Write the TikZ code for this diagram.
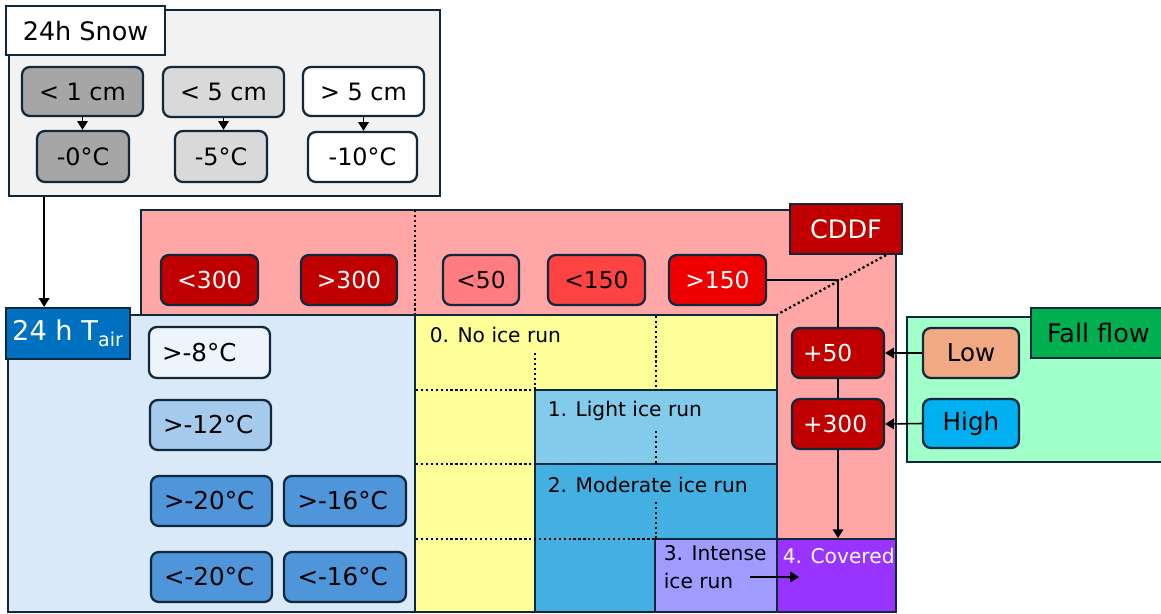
\documentclass[tikz,border=0pt]{standalone}
\usepackage{fontspec}
\setmainfont{DejaVu Sans}
\usetikzlibrary{arrows.meta}
\usepackage{xcolor}

\definecolor{outline}{HTML}{10283C}
\definecolor{snowbg}{HTML}{F2F2F2}
\definecolor{snowdark}{HTML}{A6A6A6}
\definecolor{snowmid}{HTML}{D9D9D9}
\definecolor{cddfbg}{HTML}{FFA7A7}
\definecolor{cddfdark}{HTML}{C00000}
\definecolor{cddfpink}{HTML}{FF7C80}
\definecolor{cddfmid}{HTML}{FF4343}
\definecolor{cddfred}{HTML}{EE0000}
\definecolor{tairbg}{HTML}{DAE9F8}
\definecolor{tairpale}{HTML}{EEF4FB}
\definecolor{tairlight}{HTML}{A6CAEC}
\definecolor{tairmid}{HTML}{4E95D9}
\definecolor{tairdark}{HTML}{0070C0}
\definecolor{noice}{HTML}{FFFF99}
\definecolor{lightice}{HTML}{83CBEB}
\definecolor{modice}{HTML}{44B0E1}
\definecolor{intice}{HTML}{A09CFF}
\definecolor{covice}{HTML}{9933FF}
\definecolor{flowbg}{HTML}{A1FFCA}
\definecolor{flowdark}{HTML}{00B050}
\definecolor{flowlow}{HTML}{F1A983}
\definecolor{flowhigh}{HTML}{00B0F0}

\tikzset{
  region/.style={draw=outline,line width=1pt,inner sep=0pt},
  tag/.style={draw=outline,line width=1.2pt,inner sep=0pt,font=\fontsize{14.5}{16}\selectfont},
  rbox/.style={draw=outline,line width=1.3pt,rounded corners=4.5pt,inner sep=0pt},
  sz/.style 2 args={minimum width=#1*0.02cm,minimum height=#2*0.02cm},
  leftpad/.style={align=left,text width=#1*0.02cm},
  snowtxt/.style={font=\fontsize{13.6}{15}\selectfont},
  cddftxt/.style={font=\fontsize{13.3}{15}\selectfont},
  tairtxt/.style={font=\fontsize{14}{16}\selectfont},
  icetxt/.style={anchor=base west,inner sep=0pt,font=\fontsize{11.5}{13}\selectfont},
  dotline/.style={dash pattern=on 1.3pt off 1.5pt,line width=1.3pt,line cap=butt},
}

\begin{document}
\begin{tikzpicture}[x=0.02cm,y=-0.02cm,>={Triangle[length=5pt,width=6pt]},line width=0.9pt]
\useasboundingbox (0,0) rectangle (1161,613);

% snow
\node[region,fill=snowbg,sz={431}{186}] (snow) at (224.5,103) {};
\node[tag,fill=white,sz={159}{49}] (snowlbl) at (85.5,30.5) {24h Snow};
\node[rbox,snowtxt,fill=snowdark,sz={121}{49}] (s1) at (82.5,91.5) {< 1 cm};
\node[rbox,snowtxt,fill=snowdark,sz={92}{51}] (t1) at (83,156.5) {-0°C};
\node[rbox,snowtxt,fill=snowmid,sz={121}{50}] (s2) at (223.5,92) {< 5 cm};
\node[rbox,snowtxt,fill=snowmid,sz={92}{51}] (t2) at (221,156.5) {-5°C};
\node[rbox,snowtxt,fill=white,sz={121}{49}] (s3) at (363.5,91.5) {> 5 cm};
\node[rbox,snowtxt,fill=white,sz={109}{50}] (t3) at (362.5,157) {-10°C};
\foreach \i in {1,2,3}
  \draw[->] (s\i.south) -- (s\i.south |- t\i.north);

% CDDF
\node[region,fill=cddfbg,sz={755}{330}] (cddf) at (518.5,375) {};
\node[tag,fill=cddfdark,text=white,sz={112}{50}] (cddflbl) at (846,229) {CDDF};
\node[rbox,cddftxt,fill=cddfdark,text=white,sz={97}{50}] (c1) at (209.5,280) {<300};
\node[rbox,cddftxt,fill=cddfdark,text=white,sz={96}{50}] (c2) at (349,280) {>300};
\node[rbox,cddftxt,fill=cddfpink,sz={76}{50}] (c3) at (481,280) {<50};
\node[rbox,cddftxt,fill=cddfmid,sz={97}{50}] (c4) at (596.5,280) {<150};
\node[rbox,cddftxt,fill=cddfred,text=white,sz={97}{50}] (c5) at (717.5,280) {>150};
\draw[dotline] (415,210) -- (415,315);

% air temperature
\node[region,fill=tairbg,sz={407}{297}] (tair) at (211.5,463.5) {};
\node[tag,fill=tairdark,text=white,sz={124}{51},font=\fontsize{15.5}{17}\selectfont] (tairlbl) at (68,333.5) {24 h T\textsubscript{air}};
\node[rbox,tairtxt,fill=tairpale,sz={121}{51},leftpad=95] (a8) at (209.5,352.5) {>-8°C};
\node[rbox,tairtxt,fill=tairlight,sz={121}{50},leftpad=95] (a12) at (210.5,425) {>-12°C};
\node[rbox,tairtxt,fill=tairmid,sz={121}{50},leftpad=95] (a20) at (211.5,501) {>-20°C};
\node[rbox,tairtxt,fill=tairmid,sz={122}{50},leftpad=95] (a16) at (345,501) {>-16°C};
\node[rbox,tairtxt,fill=tairmid,sz={121}{50},leftpad=95] (b20) at (211.5,577) {<-20°C};
\node[rbox,tairtxt,fill=tairmid,sz={122}{50},leftpad=95] (b16) at (345,577) {<-16°C};

% ice run classes
\node[region,fill=noice,sz={362}{297}] (noice) at (596,463.5) {};
\node[region,fill=lightice,sz={242}{74}] (light) at (656,427) {};
\node[region,fill=modice,sz={242}{148}] (moderate) at (656,538) {};
\node[region,fill=intice,sz={122}{73}] (intense) at (716,575.5) {};
\node[region,fill=covice,sz={119}{73}] (covered) at (836.5,575.5) {};
\draw[dotline] (416,390) -- (535,390);
\draw[dotline] (416,464) -- (535,464);
\draw[dotline] (416,539) -- (655,539);
\draw[dotline] (535,353) -- (535,390);
\draw[dotline] (656,316) -- (656,390);
\draw[dotline] (656,431) -- (656,464);
\draw[dotline] (656,502) -- (656,539);
\draw[dotline] ([xshift=-0.34cm]cddflbl.south east) -- (noice.north east);
\node[icetxt] (n0) at (429,342) {0. No ice run};
\node[icetxt] (n1) at (547,416) {1. Light ice run};
\node[icetxt] (n2) at (547,492) {2. Moderate ice run};
\node[icetxt] (n3) at (663,560) {3. Intense};
\node[icetxt] (n3b) at (663,588) {ice run};
\node[icetxt,text=white] (n4) at (782,563) {4. Covered};

% fall flow
\node[region,fill=flowbg,sz={263}{145}] (flow) at (1038.5,389.5) {};
\node[tag,fill=flowdark,anchor=west,inner xsep=0.32cm,minimum height=1cm] (flowlbl) at (1030,333) {Fall flow};
\node[rbox,tairtxt,fill=flowlow,sz={96}{50}] (low) at (971,353) {Low};
\node[rbox,tairtxt,fill=flowhigh,sz={96}{49}] (high) at (971,423.5) {High};
\node[rbox,cddftxt,fill=cddfdark,text=white,sz={92}{50},leftpad=70] (p50) at (838,353) {+50};
\node[rbox,cddftxt,fill=cddfdark,text=white,sz={92}{50},leftpad=70] (p300) at (838,424) {+300};

% connectors
\coordinate (snowout) at ([xshift=0.72cm]snow.south west);
\draw[->] (snowout) -- (snowout |- tairlbl.north);
\draw (c5.east) -| (p50.north);
\draw (p50.south) -- (p300.north);
\draw[->] (p300.south) -- (p300.south |- covered.north);
\draw[->] (low.west) -- (p50.east);
\draw[->] (high.west) -- (p300.east);
\coordinate (runout) at (750,577);
\coordinate (runin) at (799,577);
\draw[->] (runout) -- (runin);
\end{tikzpicture}
\end{document}
